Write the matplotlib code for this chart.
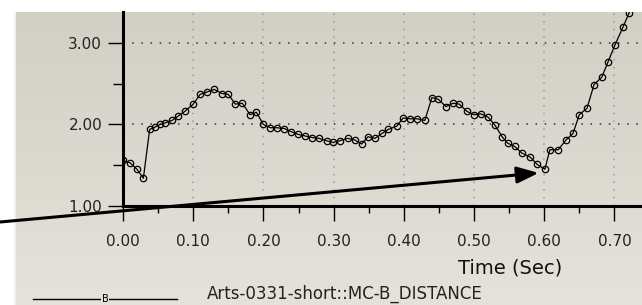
import numpy as np
import matplotlib
matplotlib.use("Agg")
import matplotlib.pyplot as plt
from matplotlib.ticker import MultipleLocator, FormatStrFormatter

# MC-B distance trace
times = [0.0, 0.01, 0.02, 0.029, 0.038, 0.046, 0.053, 0.06, 0.07, 0.078,
         0.088, 0.1, 0.11, 0.12, 0.13, 0.141, 0.15, 0.16, 0.17, 0.181,
         0.19, 0.2, 0.21, 0.219, 0.23, 0.24, 0.249, 0.259, 0.269, 0.279,
         0.29, 0.299, 0.309, 0.32, 0.33, 0.34, 0.349, 0.359, 0.369, 0.378,
         0.39, 0.399, 0.409, 0.419, 0.43, 0.44, 0.449, 0.46, 0.47, 0.479,
         0.49, 0.5, 0.51, 0.52, 0.53, 0.54, 0.548, 0.558, 0.568, 0.58,
         0.59, 0.601, 0.608, 0.62, 0.631, 0.641, 0.65, 0.661, 0.671, 0.682,
         0.691, 0.701, 0.712, 0.721, 0.731]
distance = [1.56, 1.53, 1.45, 1.34, 1.94, 1.97, 2.0, 2.02, 2.05, 2.10,
            2.16, 2.25, 2.37, 2.40, 2.43, 2.38, 2.37, 2.25, 2.26, 2.12,
            2.15, 2.0, 1.96, 1.96, 1.95, 1.91, 1.88, 1.86, 1.84, 1.83,
            1.80, 1.78, 1.80, 1.83, 1.81, 1.76, 1.85, 1.83, 1.89, 1.94,
            1.98, 2.08, 2.07, 2.07, 2.05, 2.33, 2.31, 2.22, 2.26, 2.25,
            2.16, 2.12, 2.13, 2.09, 1.99, 1.85, 1.77, 1.73, 1.65, 1.60,
            1.51, 1.45, 1.69, 1.69, 1.81, 1.89, 2.12, 2.20, 2.49, 2.58,
            2.77, 2.98, 3.19, 3.37, 3.55]
series_name = "Arts-0331-short::MC-B_DISTANCE"
arrow_target = (0.592, 1.405)

W, H = 642, 305
fig = plt.figure(figsize=(W / 100, H / 100), dpi=100)
fig.patch.set_facecolor("white")

# gray panel with slight vertical gradient
bg = fig.add_axes([14 / W, 0, 1 - 14 / W, (H - 12) / H], zorder=-5)
grad = np.linspace(0, 1, 100).reshape(-1, 1)
cmap = matplotlib.colors.LinearSegmentedColormap.from_list("bg", ["#d2cfc5", "#e4e2da"])
bg.imshow(grad, aspect="auto", cmap=cmap, extent=[0, 1, 0, 1], origin="upper")
bg.axvline(0.002, color="#f2f1ec", lw=1.5)
bg.set_axis_off()

ax = fig.add_axes([123 / W, (H - 206) / H, (W - 123) / W, (206 - 12) / H])
ax.patch.set_alpha(0)
ax.plot(times, distance, color="black", lw=0.9, marker="o", ms=4.6,
        mfc="none", mec="black", mew=0.9)

ax.set_xlim(0, 0.7393)
ax.set_ylim(1.0, 3.38)
ax.xaxis.set_major_locator(MultipleLocator(0.1))
ax.xaxis.set_minor_locator(MultipleLocator(0.05))
ax.yaxis.set_major_locator(MultipleLocator(1.0))
ax.yaxis.set_minor_locator(MultipleLocator(0.5))
ax.xaxis.set_major_formatter(FormatStrFormatter("%.2f"))
ax.yaxis.set_major_formatter(FormatStrFormatter("%.2f"))

for s in ["top", "right"]:
    ax.spines[s].set_visible(False)
for s in ["left", "bottom"]:
    ax.spines[s].set_linewidth(2.2)

ax.tick_params(axis="y", which="major", length=11, width=1.0, pad=4, labelsize=11, labelcolor="#222222")
ax.tick_params(axis="y", which="minor", length=7, width=1.0)
ax.tick_params(axis="x", which="major", length=11, width=1.0, pad=9, labelsize=11, labelcolor="#222222")
ax.tick_params(axis="x", which="minor", length=5, width=1.0)

ax.grid(axis="y", which="major", color="#333333", lw=1.1, linestyle=(0, (1, 5)))
ax.grid(axis="x", which="major", color="#9a9a9a", lw=1.1, linestyle=(0, (1, 4)))

# arrow from outside the left edge to the minimum
ax.annotate("", xy=arrow_target, xycoords="data",
            xytext=(0, (H - 222) / H), textcoords="figure fraction",
            arrowprops=dict(arrowstyle="-|>,head_length=1.3,head_width=0.5",
                        color="black", lw=2.2, shrinkA=0, shrinkB=0),
            annotation_clip=False)

fig.text(510 / W, (H - 268) / H, "Time (Sec)", ha="center", va="center",
         fontsize=14, color="#111111")

# legend line with "B" symbol
fig.add_artist(matplotlib.lines.Line2D([33 / W, 177 / W], [(H - 299) / H] * 2,
                                       color="black", lw=1.0))
fig.text(105 / W, (H - 299) / H, "B", ha="center", va="center", fontsize=7,
         color="black", bbox=dict(boxstyle="square,pad=0.05", fc="#e3e1d9", ec="none"))
fig.text(207 / W, (H - 294) / H, series_name, ha="left", va="center",
         fontsize=12, color="#222222")

fig.savefig("out.png", dpi=100)
